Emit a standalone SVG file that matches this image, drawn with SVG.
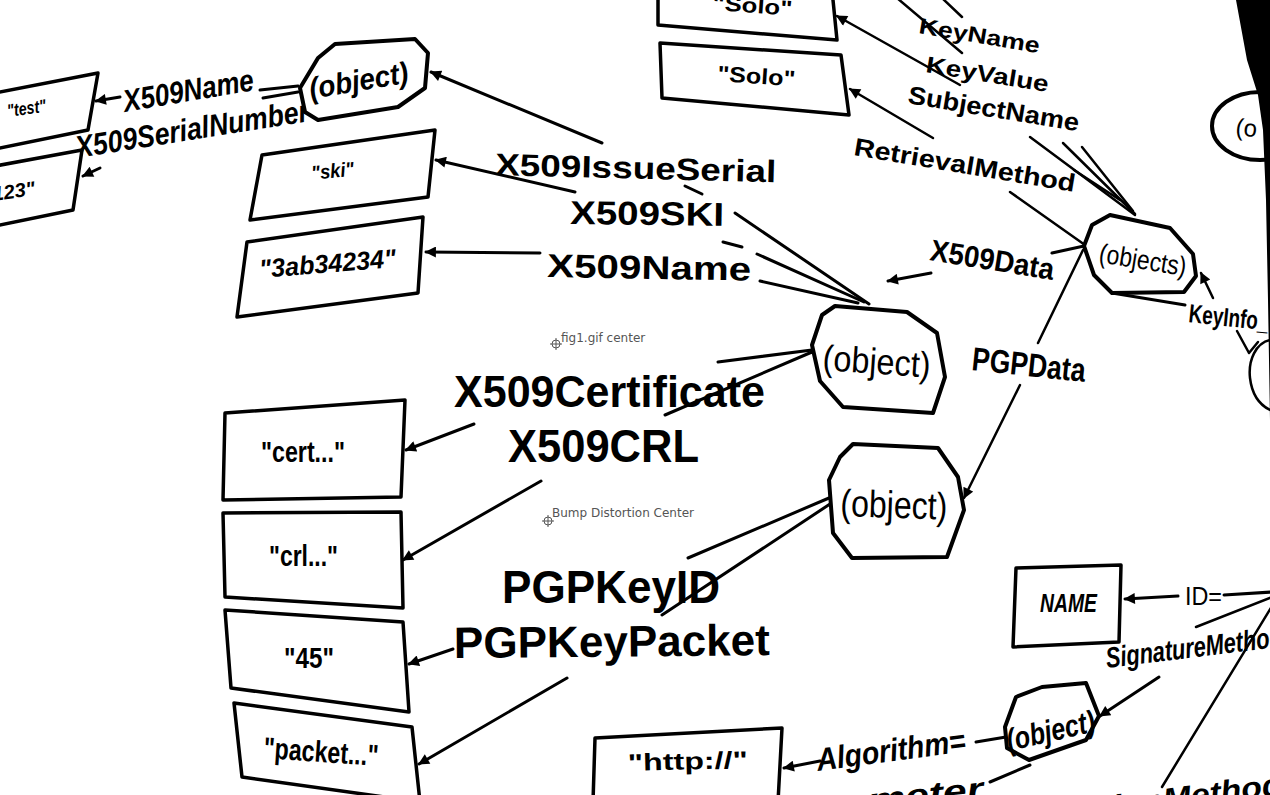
<svg xmlns="http://www.w3.org/2000/svg" width="1270" height="795" viewBox="0 0 1270 795">
<defs>
<marker id="ah" viewBox="0 0 10 10" refX="9" refY="5" markerWidth="13" markerHeight="11" markerUnits="userSpaceOnUse" orient="auto"><path d="M0,0 L10,5 L0,10 z" fill="#000"/></marker>
</defs>
<style>
.box{fill:#fff;stroke:#000;stroke-width:3.5;stroke-linejoin:round}
.node{fill:#fff;stroke:#000;stroke-width:4;stroke-linejoin:round}
.c{fill:none;stroke:#000;stroke-width:3;stroke-linecap:round}
.t{stroke-width:2.5}
.a{marker-end:url(#ah)}
.lb{font-family:"Liberation Sans",Arial,sans-serif;font-weight:bold;fill:#000}
.li{font-family:"Liberation Sans",Arial,sans-serif;font-weight:bold;font-style:italic;fill:#000}
.ln{font-family:"Liberation Sans",Arial,sans-serif;fill:#000}
.note{font-family:"DejaVu Sans",sans-serif;font-size:12px;fill:#555}
</style>
<rect x="0" y="0" width="1270" height="795" fill="#fff"/>

<g id="connectors">
  <!-- top-left -->
  <line class="c a" x1="120" y1="97" x2="96" y2="101"/>
  <line class="c" x1="260" y1="90" x2="298" y2="86"/>
  <line class="c" x1="263" y1="98" x2="298" y2="92"/>
  <line class="c a" x1="100" y1="168" x2="83" y2="176"/>
  <text class="li" font-size="31" x="125" y="112" textLength="132" lengthAdjust="spacingAndGlyphs" transform="rotate(-9.6 125 112)">X509Name</text>
  <text class="li" font-size="31" x="77" y="158" textLength="236" lengthAdjust="spacingAndGlyphs" transform="rotate(-9 77 158)">X509SerialNumber</text>

  <!-- middle upper labels -->
  <line class="c a" x1="602" y1="143" x2="431" y2="72"/>
  <line class="c a" x1="575" y1="192" x2="436" y2="160"/>
  <line class="c a" x1="540" y1="253" x2="426" y2="252"/>
  <line class="c" x1="735" y1="213" x2="869" y2="304"/>
  <line class="c" x1="757" y1="254" x2="864" y2="302"/>
  <line class="c" x1="760" y1="281" x2="858" y2="303"/>
  <line class="c" x1="685" y1="186" x2="702" y2="194"/>
  <line class="c" x1="723" y1="242" x2="742" y2="247"/>
  <text class="lb" font-size="31" x="495" y="175" textLength="281" lengthAdjust="spacingAndGlyphs" transform="rotate(1.5 495 175)">X509IssueSerial</text>
  <text class="lb" font-size="33" x="570" y="224" textLength="154" lengthAdjust="spacingAndGlyphs" transform="rotate(0.7 570 224)">X509SKI</text>
  <text class="lb" font-size="33" x="547" y="277" textLength="204" lengthAdjust="spacingAndGlyphs" transform="rotate(1 547 277)">X509Name</text>

  <!-- middle lower labels -->
  <line class="c a" x1="474" y1="424" x2="406" y2="450"/>
  <line class="c" x1="718" y1="362" x2="812" y2="350"/>
  <line class="c" x1="665" y1="415" x2="812" y2="352"/>
  <line class="c a" x1="541" y1="481" x2="403" y2="560"/>
  <line class="c" x1="688" y1="558" x2="829" y2="498"/>
  <line class="c" x1="662" y1="615" x2="830" y2="504"/>
  <line class="c a" x1="453" y1="649" x2="409" y2="664"/>
  <line class="c a" x1="567" y1="678" x2="419" y2="764"/>
  <text class="lb" font-size="45" x="454" y="407" textLength="311" lengthAdjust="spacingAndGlyphs">X509Certificate</text>
  <text class="lb" font-size="47" x="508" y="462" textLength="191" lengthAdjust="spacingAndGlyphs">X509CRL</text>
  <text class="lb" font-size="46" x="502" y="603" textLength="218" lengthAdjust="spacingAndGlyphs">PGPKeyID</text>
  <text class="lb" font-size="44" x="454" y="658" textLength="316" lengthAdjust="spacingAndGlyphs" transform="rotate(-0.5 454 658)">PGPKeyPacket</text>

  <!-- upper right -->
  <line class="c t" x1="897" y1="-2" x2="962" y2="53"/>
  <line class="c t" x1="942" y1="-2" x2="962" y2="17"/>
  <line class="c t a" x1="960" y1="85" x2="837" y2="16"/>
  <line class="c t a" x1="933" y1="138" x2="850" y2="89"/>
  <line class="c t" x1="1030" y1="137" x2="1135" y2="215"/>
  <line class="c t" x1="1063" y1="143" x2="1135" y2="214"/>
  <line class="c t" x1="1082" y1="147" x2="1133" y2="211"/>
  <line class="c t" x1="1074" y1="170" x2="1120" y2="200"/>
  <line class="c t" x1="1010" y1="192" x2="1085" y2="245"/>
  <line class="c a" x1="931" y1="273" x2="888" y2="281"/>
  <line class="c" x1="1052" y1="253" x2="1084" y2="246"/>
  <line class="c t" x1="1083" y1="250" x2="1038" y2="343"/>
  <line class="c t a" x1="1020" y1="385" x2="964" y2="498"/>
  <line class="c" x1="1112" y1="293" x2="1185" y2="305"/>
  <line class="c t a" x1="1213" y1="298" x2="1201" y2="273"/>
  <path class="c t" d="M1237,331 L1249,353 M1258,342 L1249,353"/>
  <text class="lb" font-size="22" x="918" y="33" textLength="122" lengthAdjust="spacingAndGlyphs" transform="rotate(9.5 918 33)">KeyName</text>
  <text class="lb" font-size="23" x="925" y="72" textLength="124" lengthAdjust="spacingAndGlyphs" transform="rotate(9.3 925 72)">KeyValue</text>
  <text class="lb" font-size="25" x="907" y="103" textLength="173" lengthAdjust="spacingAndGlyphs" transform="rotate(9.4 907 103)">SubjectName</text>
  <text class="lb" font-size="25" x="853" y="155" textLength="224" lengthAdjust="spacingAndGlyphs" transform="rotate(9.5 853 155)">RetrievalMethod</text>
  <text class="lb" font-size="30" x="929" y="260" textLength="125" lengthAdjust="spacingAndGlyphs" transform="rotate(9.2 929 260)">X509Data</text>
  <text class="lb" font-size="33" x="971" y="370" textLength="114" lengthAdjust="spacingAndGlyphs" transform="rotate(6 971 370)">PGPData</text>
  <text class="lb" font-size="26" x="1188" y="322" textLength="80" lengthAdjust="spacingAndGlyphs" transform="rotate(6 1188 322)">KeyInfo_</text>

  <!-- lower right -->
  <line class="c a" x1="1178" y1="596" x2="1125" y2="599"/>
  <line class="c" x1="1224" y1="595" x2="1272" y2="592"/>
  <line class="c t" x1="1196" y1="627" x2="1272" y2="597"/>
  <line class="c t" x1="1272" y1="606" x2="1162" y2="787"/>
  <line class="c a" x1="1159" y1="677" x2="1100" y2="716"/>
  <line class="c" x1="976" y1="742" x2="1006" y2="737"/>
  <line class="c a" x1="820" y1="761" x2="784" y2="768"/>
  <line class="c" x1="990" y1="782" x2="1030" y2="765"/>
  <text class="ln" font-size="26" x="1185" y="605" textLength="37" lengthAdjust="spacingAndGlyphs">ID=</text>
  <text class="li" font-size="29" x="1107" y="668" textLength="178" lengthAdjust="spacingAndGlyphs" transform="rotate(-7 1107 668)">SignatureMethod</text>
  <text class="li" font-size="32" x="818" y="771" textLength="150" lengthAdjust="spacingAndGlyphs" transform="rotate(-7.6 818 771)">Algorithm=</text>
  <text class="li" font-size="32" x="845" y="814" textLength="140" lengthAdjust="spacingAndGlyphs" transform="rotate(-6 845 814)">ameter</text>
  <text class="li" font-size="30" x="1103" y="818" textLength="182" lengthAdjust="spacingAndGlyphs" transform="rotate(-7.6 1103 818)">tionMethod</text>
</g>

<g id="node-test">
  <polygon class="box" points="-10,94 98,73 88,130 -10,150"/>
  <text class="li" font-size="18" x="8" y="117" textLength="39" lengthAdjust="spacingAndGlyphs" transform="rotate(-8 8 117)">"test"</text>
</g>
<g id="node-123">
  <polygon class="box" points="-10,167 82,150 73,210 -10,227"/>
  <text class="li" font-size="20" x="36" y="195" text-anchor="end" transform="rotate(-8 36 195)">"123"</text>
</g>
<g id="node-object-tl">
  <path class="node" d="M305,112 L300,88 L318,58 L335,44 L415,39 L428,53 L425,88 L398,107 L318,120 Z"/>
  <text class="li" font-size="30" x="311" y="99" textLength="100" lengthAdjust="spacingAndGlyphs" transform="rotate(-9.6 311 99)">(object)</text>
</g>
<g id="node-ski">
  <polygon class="box" points="262,155 435,130 428,197 250,220"/>
  <text class="li" font-size="20" x="312" y="180" textLength="43" lengthAdjust="spacingAndGlyphs" transform="rotate(-6 312 180)">"ski"</text>
</g>
<g id="node-3ab34234">
  <polygon class="box" points="247,242 423,217 418,293 237,317"/>
  <text class="li" font-size="26" x="260" y="278" textLength="137" lengthAdjust="spacingAndGlyphs" transform="rotate(-4.6 260 278)">"3ab34234"</text>
</g>
<g id="node-solo1">
  <polygon class="box" points="658,-10 832,-10 837,40 658,25"/>
  <text class="lb" font-size="21" x="712" y="10" textLength="80" lengthAdjust="spacingAndGlyphs" transform="rotate(4 712 10)">"Solo"</text>
</g>
<g id="node-solo2">
  <polygon class="box" points="660,43 841,55 849,115 662,98"/>
  <text class="lb" font-size="22" x="717" y="81" textLength="78" lengthAdjust="spacingAndGlyphs" transform="rotate(4 717 81)">"Solo"</text>
</g>
<g id="node-object-1">
  <path class="node" d="M820,381 L812,345 L822,315 L835,306 L907,312 L937,333 L945,377 L933,413 L843,407 Z"/>
  <text class="ln" font-size="36" x="822" y="370" textLength="108" lengthAdjust="spacingAndGlyphs" transform="rotate(4 822 370)">(object)</text>
</g>
<g id="node-object-2">
  <path class="node" d="M853,444 L938,448 L958,477 L964,510 L947,557 L852,558 L833,533 L829,480 L840,457 Z"/>
  <text class="ln" font-size="38" x="840" y="516" textLength="107" lengthAdjust="spacingAndGlyphs" transform="rotate(2 840 516)">(object)</text>
</g>
<g id="node-objects">
  <path class="node" d="M1094,275 L1084,246 L1092,225 L1110,215 L1170,228 L1193,254 L1196,276 L1184,292 L1112,293 Z"/>
  <text class="ln" font-size="27" x="1098" y="262" textLength="88" lengthAdjust="spacingAndGlyphs" transform="rotate(9.2 1098 262)">(objects)</text>
</g>
<g id="node-object-partial-top">
  <ellipse class="node" cx="1260" cy="126" rx="48" ry="34"/>
  <text class="ln" font-size="24" x="1235" y="135" transform="rotate(6 1235 135)">(o</text>
</g>
<g id="node-object-partial-right">
  <path class="c t" d="M1270,340 C1256,343 1248,360 1250,378 C1252,395 1260,405 1270,410"/>
</g>
<g id="node-cert">
  <polygon class="box" points="225,413 405,400 401,497 223,500"/>
  <text class="lb" font-size="30" x="261" y="462" textLength="84" lengthAdjust="spacingAndGlyphs">"cert..."</text>
</g>
<g id="node-crl">
  <polygon class="box" points="223,513 401,512 403,608 225,597"/>
  <text class="lb" font-size="30" x="269" y="566" textLength="69" lengthAdjust="spacingAndGlyphs">"crl..."</text>
</g>
<g id="node-45">
  <polygon class="box" points="225,610 403,622 409,712 231,688"/>
  <text class="lb" font-size="30" x="284" y="668" textLength="50" lengthAdjust="spacingAndGlyphs">"45"</text>
</g>
<g id="node-packet">
  <polygon class="box" points="234,703 412,727 420,802 242,777"/>
  <text class="lb" font-size="30" x="263" y="758" textLength="115" lengthAdjust="spacingAndGlyphs" transform="rotate(4 263 758)">"packet..."</text>
</g>
<g id="node-name">
  <polygon class="box" points="1016,568 1121,565 1119,642 1013,647"/>
  <text class="li" font-size="25" x="1040" y="612" textLength="57" lengthAdjust="spacingAndGlyphs" font-weight="normal">NAME</text>
</g>
<g id="node-object-br">
  <path class="node" d="M1007,748 L1005,727 L1016,697 L1042,687 L1086,683 L1099,716 L1086,740 L1029,760 Z"/>
  <text class="li" font-size="31" x="1009" y="751" textLength="90" lengthAdjust="spacingAndGlyphs" font-weight="normal" transform="rotate(-12.8 1009 751)">(object)</text>
</g>
<g id="node-http">
  <polygon class="box" points="595,738 782,728 778,802 593,802"/>
  <text class="lb" font-size="24" x="628" y="771" textLength="120" lengthAdjust="spacingAndGlyphs" transform="rotate(-1.5 628 771)">"http://"</text>
</g>

<polygon points="1236,0 1270,0 1270,420 1268,300 1266,200 1263,130 1258,95 1247,60" fill="#000"/>

<g id="annotations">
  <g stroke="#555" stroke-width="1" fill="none">
    <circle cx="556" cy="344" r="4"/><line x1="550" y1="344" x2="562" y2="344"/><line x1="556" y1="338" x2="556" y2="350"/>
    <circle cx="548" cy="521" r="4"/><line x1="542" y1="521" x2="554" y2="521"/><line x1="548" y1="515" x2="548" y2="527"/>
  </g>
  <text class="note" x="561" y="342">fig1.gif center</text>
  <text class="note" x="552" y="517">Bump Distortion Center</text>
</g>
</svg>
